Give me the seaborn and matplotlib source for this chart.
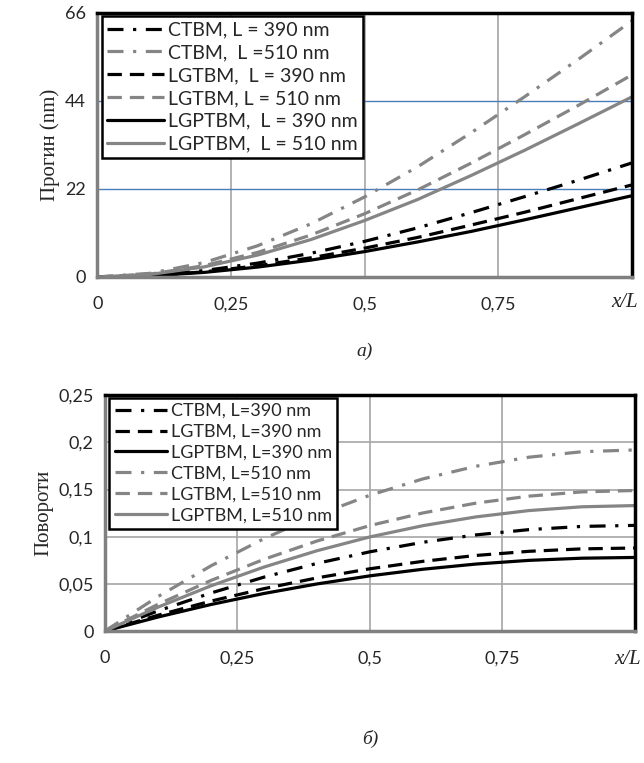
import numpy as np
import pandas as pd
import seaborn as sns
import matplotlib.pyplot as plt

# x/L positions
x_pos = [0, 0.1, 0.2, 0.3, 0.4, 0.5, 0.6, 0.7, 0.8, 0.9, 1.0]

# deflections (nm), panel a)
ctbm_390_w = [0, 0.41, 1.6, 3.46, 5.93, 8.9, 12.3, 16.1, 20.1, 24.2, 28.5]
ctbm_510_w = [0, 0.93, 3.6, 7.8, 13.3, 20.0, 27.6, 36.1, 45.1, 54.4, 64.0]
lgtbm_390_w = [0, 0.33, 1.29, 2.8, 4.8, 7.2, 9.9, 13.0, 16.2, 19.6, 23.0]
lgtbm_510_w = [0, 0.73, 2.83, 6.14, 10.5, 15.8, 21.8, 28.5, 35.6, 42.9, 50.5]
lgptbm_390_w = [0, 0.29, 1.14, 2.47, 4.22, 6.34, 8.77, 11.4, 14.3, 17.3, 20.3]
lgptbm_510_w = [0, 0.65, 2.52, 5.47, 9.36, 14.1, 19.4, 25.4, 31.7, 38.3, 45.0]

# rotations, panel b)
ctbm_390_r = [0, 0.0213, 0.0403, 0.0571, 0.0717, 0.084, 0.0941, 0.1019, 0.1075, 0.1109, 0.112]
lgtbm_390_r = [0, 0.0167, 0.0317, 0.0449, 0.0563, 0.066, 0.0739, 0.0801, 0.0845, 0.0871, 0.088]
lgptbm_390_r = [0, 0.0148, 0.0281, 0.0398, 0.0499, 0.0585, 0.0655, 0.071, 0.0749, 0.0772, 0.078]
ctbm_510_r = [0, 0.0365, 0.0691, 0.0979, 0.1229, 0.144, 0.1613, 0.1747, 0.1843, 0.1901, 0.192]
lgtbm_510_r = [0, 0.0283, 0.0536, 0.076, 0.0954, 0.1118, 0.1252, 0.1356, 0.143, 0.1475, 0.149]
lgptbm_510_r = [0, 0.0253, 0.0479, 0.0678, 0.0851, 0.0998, 0.1117, 0.121, 0.1277, 0.1317, 0.133]

labels_a = ['CTBM, L = 390 nm', 'CTBM,  L =510 nm', 'LGTBM,  L = 390 nm',
            'LGTBM, L = 510 nm', 'LGPTBM,  L = 390 nm', 'LGPTBM,  L = 510 nm']
labels_b = ['CTBM, L=390 nm', 'LGTBM, L=390 nm', 'LGPTBM, L=390 nm',
            'CTBM, L=510 nm', 'LGTBM, L=510 nm', 'LGPTBM, L=510 nm']

sns.set_style('white')
plt.rcParams['font.family'] = ['Lato', 'DejaVu Sans']

black = '#000000'
gray = '#858585'
dashdot = (0, (5, 3, 1, 3))
dashed = (0, (4.5, 2.5))
solid = '-'

fig = plt.figure(figsize=(6.44, 7.63), dpi=100)
ax1 = fig.add_axes([0.151, 0.637, 0.830, 0.346])
ax2 = fig.add_axes([0.163, 0.173, 0.823, 0.309])

# panel a
series_a = [(ctbm_390_w, black, dashdot), (ctbm_510_w, gray, dashdot),
            (lgtbm_390_w, black, dashed), (lgtbm_510_w, gray, dashed),
            (lgptbm_390_w, black, solid), (lgptbm_510_w, gray, solid)]
for (vals, col, ls), lab in zip(series_a, labels_a):
    sns.lineplot(x=x_pos, y=vals, ax=ax1, color=col, linestyle=ls, linewidth=2.3, label=lab)

ax1.set_xlim(0, 1)
ax1.set_ylim(0, 66)
ax1.set_yticks([0, 22, 44, 66])
ax1.set_xticks([0, 0.25, 0.5, 0.75])
ax1.set_xticklabels(['0', '0,25', '0,5', '0,75'])
for v in [0.25, 0.5, 0.75]:
    ax1.axvline(v, color='#a6a6a6', lw=1.2, zorder=0)
for v in [22, 44]:
    ax1.axhline(v, color='#4a7ebb', lw=1.0, zorder=0)
ax1.set_ylabel('Прогин (nm)', family='Liberation Serif', fontsize=15)
ax1.text(0.5, -0.28, 'a)', transform=ax1.transAxes, ha='center', va='center',
         family='Liberation Serif', style='italic', fontsize=14)

# panel b
series_b = [(ctbm_390_r, black, dashdot), (lgtbm_390_r, black, dashed),
            (lgptbm_390_r, black, solid), (ctbm_510_r, gray, dashdot),
            (lgtbm_510_r, gray, dashed), (lgptbm_510_r, gray, solid)]
for (vals, col, ls), lab in zip(series_b, labels_b):
    sns.lineplot(x=x_pos, y=vals, ax=ax2, color=col, linestyle=ls, linewidth=2.3, label=lab)

ax2.set_xlim(0, 1)
ax2.set_ylim(0, 0.25)
ax2.set_yticks([0, 0.05, 0.1, 0.15, 0.2, 0.25])
ax2.set_yticklabels(['0', '0,05', '0,1', '0,15', '0,2', '0,25'])
ax2.set_xticks([0, 0.25, 0.5, 0.75, 1])
ax2.set_xticklabels(['0', '0,25', '0,5', '0,75', ''])
ax2.grid(True, color='#a6a6a6', lw=1.2)
ax2.set_axisbelow(True)
ax2.set_ylabel('Повороти', family='Liberation Serif', fontsize=15)
ax2.text(0.5, -0.46, 'б)', transform=ax2.transAxes, ha='center', va='center',
         family='Liberation Serif', style='italic', fontsize=14)

leg_opts = [(ax1, 14, 0.3, 0.095), (ax2, 13, 0.27, 0.122)]
for ax, fs, spacing, xlab_y in leg_opts:
    for s in ['top', 'right']:
        ax.spines[s].set_color('black')
        ax.spines[s].set_linewidth(2.5)
    for s in ['left', 'bottom']:
        ax.spines[s].set_color('#808080')
        ax.spines[s].set_linewidth(2.5)
    ax.tick_params(axis='x', length=0, pad=14, labelsize=13)
    ax.tick_params(axis='y', length=0, pad=8, labelsize=13)
    ax.text(1.012, -xlab_y, 'x/L', transform=ax.transAxes, ha='right', va='center',
            family='Liberation Serif', style='italic', fontsize=15)
    leg = ax.legend(loc='upper left', bbox_to_anchor=(0.008, 0.99), fontsize=fs,
                    frameon=True, fancybox=False, handlelength=2.9,
                    handletextpad=0.2, borderpad=0.3, labelspacing=spacing,
                    borderaxespad=0)
    leg.get_frame().set_edgecolor('black')
    leg.get_frame().set_linewidth(1.8)
    leg.get_frame().set_alpha(1)

ax2.tick_params(axis='y', length=4, color='#808080', width=1.2, pad=4)

fig.savefig('out.png', dpi=100)
